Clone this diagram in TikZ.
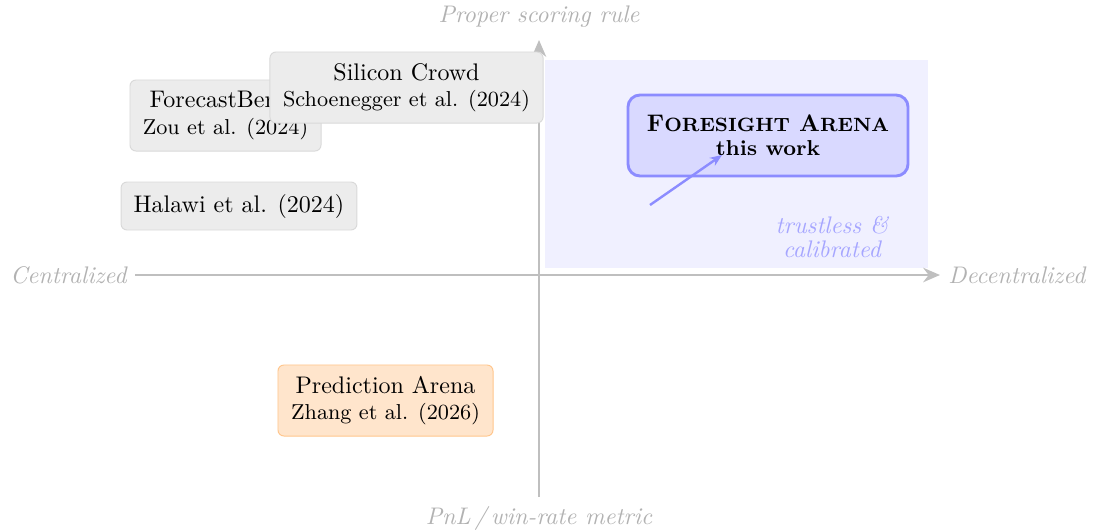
\documentclass[tikz,border=0pt]{standalone}
\usetikzlibrary{arrows.meta}
\newcommand{\fsc}[1]{{\fontsize{8}{8}\selectfont #1}}
\begin{document}
\begin{tikzpicture}[x=0.41667pt,y=-0.41667pt,
  axis/.style={draw=gray!50,line width=1pt,-{Stealth[length=7pt,width=6pt]}},
  axlabel/.style={text=gray!60,font=\itshape},
  lit/.style={draw=gray!30,fill=gray!15,rounded corners=2.5pt,align=center,inner sep=0pt},
  ours/.style={draw=blue!45,fill=blue!15,line width=1.2pt,rounded corners=5pt,align=center,inner sep=0pt},
  pa/.style={draw=orange!45,fill=orange!20,rounded corners=2.5pt,align=center,inner sep=0pt}]
\useasboundingbox (0,0) rectangle (1097,531);
\fill[blue!6] (545,60) rectangle (928,268);
\coordinate (xl) at (135,275);
\coordinate (xr) at (940,275);
\coordinate (yb) at (539,497);
\coordinate (yt) at (539,40);
\draw[axis] (xl) -- (xr);
\draw[axis] (yb) -- (yt);
\node[axlabel,anchor=east] (cen) at (xl) {Centralized};
\node[axlabel,anchor=west] (dec) at (xr) {Decentralized};
\node[axlabel] (psr) at (539,17) {Proper scoring rule};
\node[axlabel] (pnl) at (539,518) {PnL\,/\,win-rate metric};
\node[lit,minimum width=79.6pt,minimum height=29.6pt] (fb) at (225.5,115.5) {ForecastBench\\[-1pt]{\small Zou et al. (2024)}};
\node[lit,minimum width=113.8pt,minimum height=29.6pt] (sc) at (406.5,87.5) {Silicon Crowd\\[-1pt]{\small Schoenegger et al. (2024)}};
\node[lit,minimum width=98.3pt,minimum height=20pt] (ha) at (239,206) {Halawi et al. (2024)};
\node[pa,minimum width=89.6pt,minimum height=29.6pt] (pra) at (385.5,400.5) {Prediction Arena\\[-1pt]{\small Zhang et al. (2026)}};
\node[ours,minimum width=116.7pt,minimum height=33.75pt] (fa) at (768,135.5) {\textbf{F\fsc{ORESIGHT} A\fsc{RENA}}\\[-2pt]{\small\bfseries this work}};
\coordinate (ar) at (650,205);
\draw[blue!45,line width=1pt,-{Stealth[length=5pt,width=4pt]}] (ar) -- (722,155);
\node[text=blue!35,font=\itshape,align=center] (tc) at (832,237) {trustless \&\\[-2pt]calibrated};
\end{tikzpicture}
\end{document}
